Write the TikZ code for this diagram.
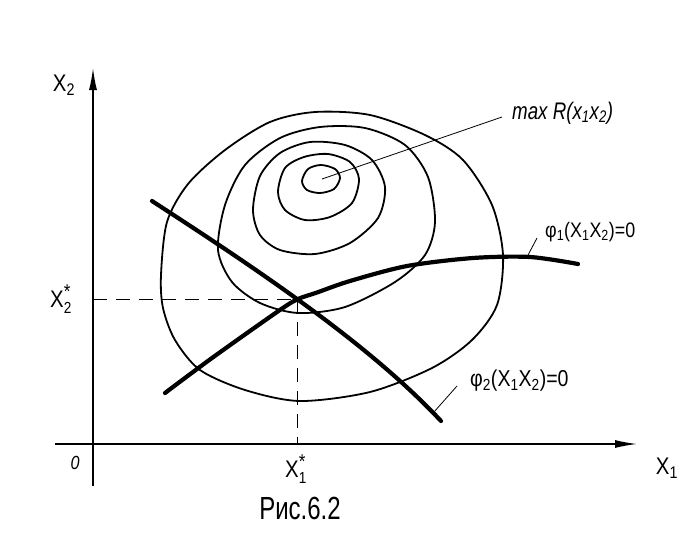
\documentclass[tikz,border=0pt]{standalone}
\usepackage{fontspec}
\setmainfont{Liberation Sans}[FakeStretch=0.85]
\usetikzlibrary{arrows.meta}

\newcommand{\starred}[2]{#1$^{\hbox{\fontsize{20}{20}\selectfont *}}_{\hbox{\fontsize{16}{16}\selectfont #2}}$}

\begin{document}
\begin{tikzpicture}[x=1pt,y=-1pt,
    axis/.style={line width=1.3pt, -{Latex[length=22pt,width=8pt]}},
    level/.style={line width=1.8pt},
    constraint/.style={line width=4.2pt, line cap=round},
    leader/.style={line width=0.8pt},
    guide/.style={line width=0.9pt, dash pattern=on 14pt off 9pt},
    lbl/.style={inner sep=0pt, font=\fontsize{24}{28}\selectfont}]
    \useasboundingbox (0,0) rectangle (691,558);

    % Axes
    \coordinate (O) at (93,444);
    \coordinate (ybot) at (93,486);
    \coordinate (ytop) at (93,68);
    \coordinate (xleft) at (55,444);
    \coordinate (xright) at (637,444);
    \draw[axis] (ybot) -- (ytop);
    \draw[axis] (xleft) -- (xright);

    % Optimum point and guides
    \coordinate (opt) at (297,299);
    \coordinate (optx) at (297,444);
    \coordinate (opty) at (93,299);
    \draw[guide] (opty) -- (opt);
    \draw[guide] (opt) -- (optx);

    % Level curves of R
    \draw[level] plot[smooth cycle] coordinates {(302,181) (308,169) (321,165) (335,169) (340,178) (334,189) (320,193) (307,190)};
    \draw[level] plot[smooth cycle] coordinates {(278,192) (285,168) (304,157) (328,154) (350,162) (359,179) (352,203) (330,217) (305,220) (285,210)};
    \draw[level] plot[smooth cycle] coordinates {(253,210) (260,176) (280,153) (310,142) (345,145) (372,160) (385,187) (378,218) (350,243) (315,254) (280,250) (260,235)};
    \draw[level] plot[smooth cycle] coordinates {(218,250) (225,205) (245,165) (280,138) (320,127) (365,128) (405,145) (428,177) (435,222) (425,255) (395,282) (345,307) (298,313) (260,303) (232,282)};
    \draw[level] plot[smooth cycle] coordinates {(161,275) (167,222) (188,184) (225,150) (270,122) (315,112) (370,115) (425,135) (463,160) (492,205) (503,255) (497,305) (472,340) (432,368) (370,392) (300,401) (245,390) (200,370) (175,340) (163,308)};

    % Constraint curves
    \draw[constraint] plot[smooth] coordinates {(165,393) (212,358) (277,312) (297,299.5) (317,292.5) (350,281) (407,266) (473,258) (530,257) (578,264)};
    \draw[constraint] (152,201) .. controls (260,271) and (370,345) .. (441,421);

    % Labels
    \node[lbl] (x2lab) at (64,85) {X\textsubscript{2}};
    \node[lbl] (x2star) at (61,299) {\starred{X}{2}};
    \node[lbl, font=\fontsize{19}{22}\selectfont\itshape] (olab) at (75,463) {0};
    \node[lbl] (x1star) at (296,469) {\starred{X}{1}};
    \node[lbl] (x1lab) at (667,468) {X\textsubscript{1}};
    \node[lbl, font=\fontsize{32}{36}\addfontfeature{FakeStretch=0.75}\selectfont] (caption) at (300,508) {Рис.6.2};
    \node[lbl, anchor=west, font=\fontsize{24}{28}\addfontfeature{FakeStretch=0.78}\selectfont\itshape] (maxlab) at (512,113) {max R(x\textsubscript{1}x\textsubscript{2})};
    \node[lbl, anchor=west, font=\fontsize{21}{24}\selectfont] (phi1lab) at (545,232) {φ\textsubscript{1}(X\textsubscript{1}X\textsubscript{2})=0};
    \node[lbl, anchor=west, font=\fontsize{23}{26}\selectfont] (phi2lab) at (470,381) {φ\textsubscript{2}(X\textsubscript{1}X\textsubscript{2})=0};

    % Leaders
    \coordinate (peak) at (322,179);
    \coordinate (maxend) at (502,117);
    \coordinate (phi1foot) at (527,257);
    \coordinate (phi1end) at (537,238);
    \coordinate (phi2foot) at (434,412);
    \coordinate (phi2end) at (457,386);
    \draw[leader] (peak) -- (maxend);
    \draw[leader] (phi1foot) -- (phi1end);
    \draw[leader] (phi2foot) -- (phi2end);
\end{tikzpicture}
\end{document}
